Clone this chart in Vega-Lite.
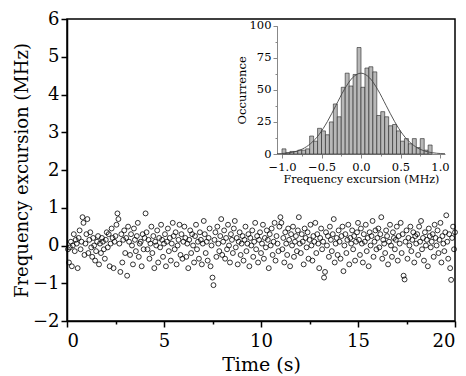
{
"$schema": "https://vega.github.io/schema/vega-lite/v6.json",
"autosize": "none",
"width": 388, "height": 302,
"padding": {"left": 67, "top": 19, "right": 11, "bottom": 55},
"background": "white",
"config": {"font": "DejaVu Serif", "view": {"stroke": "black", "strokeWidth": 1.5}, "axis": {"grid": false, "titleFontWeight": "normal"}},
"datasets": {
"pts": [
{"t":0.05,"f":-0.1},{"t":0.1,"f":-0.45},{"t":0.15,"f":-0.05},{"t":0.2,"f":0.1},{"t":0.25,"f":-0.55},{"t":0.3,"f":0.0},{"t":0.35,"f":0.3},{"t":0.4,"f":-0.15},{"t":0.45,"f":0.15},{"t":0.5,"f":0.05},{"t":0.55,"f":-0.6},{"t":0.6,"f":0.2},{"t":0.65,"f":0.4},{"t":0.7,"f":-0.1},{"t":0.75,"f":0.1},{"t":0.8,"f":0.75},{"t":0.85,"f":0.6},{"t":0.9,"f":-0.25},{"t":0.95,"f":0.05},{"t":1.0,"f":0.3},
{"t":1.05,"f":0.7},{"t":1.1,"f":-0.2},{"t":1.15,"f":0.15},{"t":1.2,"f":0.35},{"t":1.25,"f":-0.05},{"t":1.3,"f":-0.3},{"t":1.35,"f":0.2},{"t":1.4,"f":0.0},{"t":1.45,"f":-0.4},{"t":1.5,"f":-0.15},{"t":1.55,"f":0.1},{"t":1.6,"f":0.25},{"t":1.65,"f":-0.5},{"t":1.7,"f":0.05},{"t":1.75,"f":-0.2},{"t":1.8,"f":0.2},{"t":1.85,"f":0.1},{"t":1.9,"f":-0.1},{"t":1.95,"f":-0.35},{"t":2.0,"f":0.15},
{"t":2.05,"f":0.35},{"t":2.1,"f":-0.05},{"t":2.15,"f":0.3},{"t":2.2,"f":-0.55},{"t":2.25,"f":0.05},{"t":2.3,"f":0.45},{"t":2.35,"f":0.2},{"t":2.4,"f":-0.6},{"t":2.45,"f":0.1},{"t":2.5,"f":0.25},{"t":2.55,"f":0.55},{"t":2.6,"f":0.85},{"t":2.65,"f":0.7},{"t":2.7,"f":0.05},{"t":2.75,"f":-0.7},{"t":2.8,"f":0.3},{"t":2.85,"f":-0.45},{"t":2.9,"f":0.15},{"t":2.95,"f":0.4},{"t":3.0,"f":-0.2},
{"t":3.05,"f":0.2},{"t":3.1,"f":-0.8},{"t":3.15,"f":0.5},{"t":3.2,"f":0.1},{"t":3.25,"f":-0.25},{"t":3.3,"f":0.3},{"t":3.35,"f":0.0},{"t":3.4,"f":-0.5},{"t":3.45,"f":0.45},{"t":3.5,"f":0.15},{"t":3.55,"f":-0.15},{"t":3.6,"f":0.25},{"t":3.65,"f":0.6},{"t":3.7,"f":-0.3},{"t":3.75,"f":0.05},{"t":3.8,"f":0.1},{"t":3.85,"f":-0.55},{"t":3.9,"f":0.3},{"t":3.95,"f":-0.1},{"t":4.0,"f":0.2},
{"t":4.05,"f":0.85},{"t":4.1,"f":0.35},{"t":4.15,"f":-0.1},{"t":4.2,"f":0.15},{"t":4.25,"f":-0.35},{"t":4.3,"f":0.05},{"t":4.35,"f":0.5},{"t":4.4,"f":-0.2},{"t":4.45,"f":0.25},{"t":4.5,"f":-0.6},{"t":4.55,"f":0.1},{"t":4.6,"f":0.0},{"t":4.65,"f":0.4},{"t":4.7,"f":-0.45},{"t":4.75,"f":0.2},{"t":4.8,"f":-0.05},{"t":4.85,"f":0.55},{"t":4.9,"f":0.15},{"t":4.95,"f":-0.3},{"t":5.0,"f":0.05},
{"t":5.05,"f":0.3},{"t":5.1,"f":-0.55},{"t":5.15,"f":0.1},{"t":5.2,"f":0.45},{"t":5.25,"f":-0.15},{"t":5.3,"f":0.2},{"t":5.35,"f":-0.4},{"t":5.4,"f":0.05},{"t":5.45,"f":0.6},{"t":5.5,"f":0.25},{"t":5.55,"f":-0.1},{"t":5.6,"f":0.35},{"t":5.65,"f":-0.5},{"t":5.7,"f":0.0},{"t":5.75,"f":0.15},{"t":5.8,"f":0.55},{"t":5.85,"f":-0.25},{"t":5.9,"f":0.3},{"t":5.95,"f":-0.35},{"t":6.0,"f":0.1},
{"t":6.05,"f":0.5},{"t":6.1,"f":0.2},{"t":6.15,"f":-0.3},{"t":6.2,"f":0.05},{"t":6.25,"f":-0.6},{"t":6.3,"f":0.15},{"t":6.35,"f":0.4},{"t":6.4,"f":-0.2},{"t":6.45,"f":0.3},{"t":6.5,"f":0.0},{"t":6.55,"f":-0.45},{"t":6.6,"f":0.25},{"t":6.65,"f":0.55},{"t":6.7,"f":-0.1},{"t":6.75,"f":0.1},{"t":6.8,"f":-0.35},{"t":6.85,"f":0.35},{"t":6.9,"f":0.15},{"t":6.95,"f":-0.5},{"t":7.0,"f":0.05},
{"t":7.05,"f":0.65},{"t":7.1,"f":0.3},{"t":7.15,"f":-0.2},{"t":7.2,"f":0.1},{"t":7.25,"f":-0.4},{"t":7.3,"f":0.2},{"t":7.35,"f":0.45},{"t":7.4,"f":-0.55},{"t":7.45,"f":0.0},{"t":7.5,"f":-0.85},{"t":7.55,"f":-1.05},{"t":7.6,"f":0.15},{"t":7.65,"f":0.35},{"t":7.7,"f":-0.3},{"t":7.75,"f":0.5},{"t":7.8,"f":0.05},{"t":7.85,"f":-0.15},{"t":7.9,"f":0.25},{"t":7.95,"f":0.7},{"t":8.0,"f":-0.25},
{"t":8.05,"f":0.1},{"t":8.1,"f":0.4},{"t":8.15,"f":-0.35},{"t":8.2,"f":0.2},{"t":8.25,"f":-0.1},{"t":8.3,"f":0.55},{"t":8.35,"f":0.0},{"t":8.4,"f":-0.45},{"t":8.45,"f":0.3},{"t":8.5,"f":0.15},{"t":8.55,"f":-0.2},{"t":8.6,"f":0.45},{"t":8.65,"f":0.65},{"t":8.7,"f":-0.05},{"t":8.75,"f":0.2},{"t":8.8,"f":-0.5},{"t":8.85,"f":0.1},{"t":8.9,"f":0.35},{"t":8.95,"f":-0.25},{"t":9.0,"f":0.05},
{"t":9.05,"f":0.25},{"t":9.1,"f":-0.4},{"t":9.15,"f":0.15},{"t":9.2,"f":0.5},{"t":9.25,"f":-0.15},{"t":9.3,"f":0.05},{"t":9.35,"f":0.3},{"t":9.4,"f":-0.55},{"t":9.45,"f":0.2},{"t":9.5,"f":0.0},{"t":9.55,"f":0.4},{"t":9.6,"f":-0.3},{"t":9.65,"f":0.1},{"t":9.7,"f":0.6},{"t":9.75,"f":-0.1},{"t":9.8,"f":0.25},{"t":9.85,"f":-0.45},{"t":9.9,"f":0.15},{"t":9.95,"f":0.35},{"t":10.0,"f":-0.2},
{"t":10.05,"f":0.05},{"t":10.1,"f":0.55},{"t":10.15,"f":-0.35},{"t":10.2,"f":0.2},{"t":10.25,"f":-0.05},{"t":10.3,"f":0.4},{"t":10.35,"f":0.15},{"t":10.4,"f":-0.6},{"t":10.45,"f":0.3},{"t":10.5,"f":0.0},{"t":10.55,"f":0.45},{"t":10.6,"f":-0.25},{"t":10.65,"f":0.1},{"t":10.7,"f":0.6},{"t":10.75,"f":-0.4},{"t":10.8,"f":0.25},{"t":10.85,"f":0.05},{"t":10.9,"f":-0.15},{"t":10.95,"f":0.5},{"t":11.0,"f":0.75},
{"t":11.05,"f":0.6},{"t":11.1,"f":-0.1},{"t":11.15,"f":0.2},{"t":11.2,"f":-0.45},{"t":11.25,"f":0.35},{"t":11.3,"f":0.05},{"t":11.35,"f":-0.25},{"t":11.4,"f":0.45},{"t":11.45,"f":0.15},{"t":11.5,"f":-0.55},{"t":11.55,"f":0.3},{"t":11.6,"f":0.0},{"t":11.65,"f":0.5},{"t":11.7,"f":-0.3},{"t":11.75,"f":0.1},{"t":11.8,"f":0.25},{"t":11.85,"f":-0.15},{"t":11.9,"f":0.4},{"t":11.95,"f":0.75},{"t":12.0,"f":0.05},
{"t":12.05,"f":-0.2},{"t":12.1,"f":0.3},{"t":12.15,"f":0.1},{"t":12.2,"f":-0.5},{"t":12.25,"f":0.45},{"t":12.3,"f":0.2},{"t":12.35,"f":-0.05},{"t":12.4,"f":0.35},{"t":12.45,"f":-0.35},{"t":12.5,"f":0.15},{"t":12.55,"f":0.55},{"t":12.6,"f":0.0},{"t":12.65,"f":-0.4},{"t":12.7,"f":0.25},{"t":12.75,"f":0.1},{"t":12.8,"f":0.6},{"t":12.85,"f":-0.2},{"t":12.9,"f":0.3},{"t":12.95,"f":0.05},{"t":13.0,"f":-0.6},
{"t":13.05,"f":0.2},{"t":13.1,"f":0.45},{"t":13.15,"f":-0.1},{"t":13.2,"f":0.1},{"t":13.25,"f":-0.85},{"t":13.3,"f":-0.7},{"t":13.35,"f":0.35},{"t":13.4,"f":0.0},{"t":13.45,"f":0.25},{"t":13.5,"f":-0.3},{"t":13.55,"f":0.5},{"t":13.6,"f":0.15},{"t":13.65,"f":-0.15},{"t":13.7,"f":0.3},{"t":13.75,"f":0.7},{"t":13.8,"f":-0.45},{"t":13.85,"f":0.05},{"t":13.9,"f":0.2},{"t":13.95,"f":-0.25},{"t":14.0,"f":0.4},
{"t":14.05,"f":0.1},{"t":14.1,"f":-0.35},{"t":14.15,"f":0.25},{"t":14.2,"f":0.5},{"t":14.25,"f":-0.68},{"t":14.3,"f":0.0},{"t":14.35,"f":0.3},{"t":14.4,"f":-0.2},{"t":14.45,"f":0.15},{"t":14.5,"f":0.55},{"t":14.55,"f":-0.5},{"t":14.6,"f":0.2},{"t":14.65,"f":0.05},{"t":14.7,"f":0.4},{"t":14.75,"f":-0.1},{"t":14.8,"f":0.25},{"t":14.85,"f":-0.4},{"t":14.9,"f":0.1},{"t":14.95,"f":0.35},{"t":15.0,"f":0.6},
{"t":15.05,"f":0.15},{"t":15.1,"f":-0.25},{"t":15.15,"f":0.45},{"t":15.2,"f":0.05},{"t":15.25,"f":-0.45},{"t":15.3,"f":0.3},{"t":15.35,"f":0.1},{"t":15.4,"f":0.55},{"t":15.45,"f":-0.15},{"t":15.5,"f":0.2},{"t":15.55,"f":-0.55},{"t":15.6,"f":0.35},{"t":15.65,"f":0.0},{"t":15.7,"f":0.25},{"t":15.75,"f":0.65},{"t":15.8,"f":-0.3},{"t":15.85,"f":0.1},{"t":15.9,"f":0.4},{"t":15.95,"f":-0.1},{"t":16.0,"f":0.2},
{"t":16.05,"f":0.45},{"t":16.1,"f":-0.05},{"t":16.15,"f":0.3},{"t":16.2,"f":0.75},{"t":16.25,"f":-0.35},{"t":16.3,"f":0.15},{"t":16.35,"f":0.05},{"t":16.4,"f":-0.2},{"t":16.45,"f":0.4},{"t":16.5,"f":0.25},{"t":16.55,"f":-0.5},{"t":16.6,"f":0.1},{"t":16.65,"f":0.55},{"t":16.7,"f":0.0},{"t":16.75,"f":-0.3},{"t":16.8,"f":0.35},{"t":16.85,"f":0.2},{"t":16.9,"f":-0.1},{"t":16.95,"f":0.15},{"t":17.0,"f":0.5},
{"t":17.05,"f":-0.4},{"t":17.1,"f":0.25},{"t":17.15,"f":0.05},{"t":17.2,"f":0.6},{"t":17.25,"f":-0.2},{"t":17.3,"f":0.3},{"t":17.35,"f":-0.8},{"t":17.4,"f":-0.9},{"t":17.45,"f":0.1},{"t":17.5,"f":0.4},{"t":17.55,"f":-0.35},{"t":17.6,"f":0.2},{"t":17.65,"f":0.0},{"t":17.7,"f":0.5},{"t":17.75,"f":-0.15},{"t":17.8,"f":0.15},{"t":17.85,"f":0.35},{"t":17.9,"f":-0.45},{"t":17.95,"f":0.25},{"t":18.0,"f":0.05},
{"t":18.05,"f":0.3},{"t":18.1,"f":-0.25},{"t":18.15,"f":0.5},{"t":18.2,"f":0.1},{"t":18.25,"f":0.65},{"t":18.3,"f":-0.1},{"t":18.35,"f":0.2},{"t":18.4,"f":-0.4},{"t":18.45,"f":0.35},{"t":18.5,"f":0.0},{"t":18.55,"f":0.15},{"t":18.6,"f":-0.55},{"t":18.65,"f":0.45},{"t":18.7,"f":0.25},{"t":18.75,"f":-0.05},{"t":18.8,"f":0.1},{"t":18.85,"f":0.3},{"t":18.9,"f":-0.3},{"t":18.95,"f":0.55},{"t":19.0,"f":0.2},
{"t":19.05,"f":0.0},{"t":19.1,"f":0.4},{"t":19.15,"f":-0.2},{"t":19.2,"f":0.15},{"t":19.25,"f":0.6},{"t":19.3,"f":-0.45},{"t":19.35,"f":0.25},{"t":19.4,"f":0.05},{"t":19.45,"f":-0.15},{"t":19.5,"f":0.35},{"t":19.55,"f":0.8},{"t":19.6,"f":0.1},{"t":19.65,"f":-0.35},{"t":19.7,"f":0.3},{"t":19.75,"f":-0.6},{"t":19.8,"f":-0.91},{"t":19.85,"f":0.2},{"t":19.9,"f":0.5},{"t":19.95,"f":-0.1},{"t":20.0,"f":0.35}
],
"hist": [
{"b0":-1.0,"b1":-0.95,"n":4},{"b0":-0.95,"b1":-0.9,"n":1},{"b0":-0.9,"b1":-0.85,"n":2},{"b0":-0.85,"b1":-0.8,"n":2},{"b0":-0.8,"b1":-0.75,"n":3},{"b0":-0.75,"b1":-0.7,"n":3},{"b0":-0.7,"b1":-0.65,"n":4},{"b0":-0.65,"b1":-0.6,"n":14},{"b0":-0.6,"b1":-0.55,"n":10},{"b0":-0.55,"b1":-0.5,"n":20},{"b0":-0.5,"b1":-0.45,"n":18},{"b0":-0.45,"b1":-0.4,"n":15},{"b0":-0.4,"b1":-0.35,"n":25},{"b0":-0.35,"b1":-0.3,"n":39},{"b0":-0.3,"b1":-0.25,"n":29},{"b0":-0.25,"b1":-0.2,"n":52},{"b0":-0.2,"b1":-0.15,"n":63},{"b0":-0.15,"b1":-0.1,"n":53},{"b0":-0.1,"b1":-0.05,"n":62},{"b0":-0.05,"b1":0.0,"n":83},{"b0":0.0,"b1":0.05,"n":52},{"b0":0.05,"b1":0.1,"n":67},{"b0":0.1,"b1":0.15,"n":68},{"b0":0.15,"b1":0.2,"n":64},{"b0":0.2,"b1":0.25,"n":30},{"b0":0.25,"b1":0.3,"n":33},{"b0":0.3,"b1":0.35,"n":29},{"b0":0.35,"b1":0.4,"n":22},{"b0":0.4,"b1":0.45,"n":23},{"b0":0.45,"b1":0.5,"n":18},{"b0":0.5,"b1":0.55,"n":10},{"b0":0.55,"b1":0.6,"n":12},{"b0":0.6,"b1":0.65,"n":8},{"b0":0.65,"b1":0.7,"n":12},{"b0":0.7,"b1":0.75,"n":5},{"b0":0.75,"b1":0.8,"n":12},{"b0":0.8,"b1":0.85,"n":3},{"b0":0.85,"b1":0.9,"n":7}
],
"fit": [
{"x":-1.0,"y":0.2},{"x":-0.9,"y":0.6},{"x":-0.8,"y":1.6},{"x":-0.7,"y":3.8},{"x":-0.6,"y":8.1},{"x":-0.5,"y":15.1},{"x":-0.4,"y":25.3},{"x":-0.3,"y":37.7},{"x":-0.2,"y":50.1},{"x":-0.1,"y":59.5},{"x":0.0,"y":63},{"x":0.1,"y":59.5},{"x":0.2,"y":50.1},{"x":0.3,"y":37.7},{"x":0.4,"y":25.3},{"x":0.5,"y":15.1},{"x":0.6,"y":8.1},{"x":0.7,"y":3.8},{"x":0.8,"y":1.6},{"x":0.9,"y":0.6},{"x":1.0,"y":0.2}
]
},
"layer": [
{
"data": {"name": "pts"},
"mark": {"type": "point", "shape": "circle", "filled": false, "stroke": "black", "strokeWidth": 0.8, "size": 24, "opacity": 1},
"encoding": {
"x": {"field": "t", "type": "quantitative", "scale": {"domain": [0, 20], "nice": false, "zero": false},
"axis": {"orient": "bottom", "title": "Time (s)", "values": [0,2.5,5,7.5,10,12.5,15,17.5,20], "labelExpr": "datum.value % 5 === 0 ? datum.label : ''", "tickSize": {"condition": {"test": "datum.value % 5 === 0", "value": 6}, "value": 3}, "domainColor": "black", "domainWidth": 1.5, "tickColor": "black", "tickWidth": 1.5, "labelFontSize": 18, "labelColor": "black", "labelPadding": 5, "titleFontSize": 19, "titleColor": "black", "titlePadding": 5}},
"y": {"field": "f", "type": "quantitative", "scale": {"domain": [-2, 6], "nice": false, "zero": false},
"axis": {"orient": "left", "title": "Frequency excursion (MHz)", "values": [-2,-1,0,1,2,3,4,5,6], "tickSize": 6, "domainColor": "black", "domainWidth": 1.5, "tickColor": "black", "tickWidth": 1.5, "labelFontSize": 18, "labelColor": "black", "labelPadding": 2, "titleFontSize": 18, "titleColor": "black", "titlePadding": 1}}
}
},
{
"data": {"name": "hist"},
"mark": {"type": "bar", "fill": "#b8b8b8", "stroke": "#222222", "strokeWidth": 0.6, "orient": "vertical"},
"encoding": {
"x": {"field": "b0", "type": "quantitative", "scale": {"domain": [-1, 1], "range": [210, 378], "nice": false, "zero": false},
"axis": {"orient": "bottom", "offset": -167, "title": "Frequency excursion (MHz)", "values": [-1,-0.75,-0.5,-0.25,0,0.25,0.5,0.75,1], "format": ".1f", "labelExpr": "(datum.value * 4) % 2 === 0 ? datum.label : ''", "tickSize": {"condition": {"test": "(datum.value * 4) % 2 === 0", "value": 4}, "value": 2}, "domainColor": "#888888", "tickColor": "#888888", "labelFontSize": 11.5, "labelColor": "black", "labelPadding": 3, "titleFontSize": 11, "titleColor": "black", "titlePadding": 1}},
"x2": {"field": "b1"},
"y": {"field": "n", "type": "quantitative", "scale": {"domain": [0, 100], "range": [135, 6.7], "nice": false, "zero": false},
"axis": {"orient": "left", "offset": -210, "title": "Occurrence", "values": [0,12.5,25,37.5,50,62.5,75,87.5,100], "labelExpr": "datum.value % 25 === 0 ? datum.label : ''", "tickSize": {"condition": {"test": "datum.value % 25 === 0", "value": 4}, "value": 2}, "domainColor": "#888888", "tickColor": "#888888", "labelFontSize": 11.5, "labelColor": "black", "labelPadding": 2, "titleFontSize": 11.5, "titleColor": "black", "titlePadding": 2}},
"y2": {"datum": 0}
}
},
{
"data": {"name": "fit"},
"mark": {"type": "line", "color": "#444444", "strokeWidth": 0.9, "interpolate": "monotone"},
"encoding": {
"x": {"field": "x", "type": "quantitative", "scale": {"domain": [-1, 1], "range": [210, 378], "nice": false, "zero": false}, "axis": null},
"y": {"field": "y", "type": "quantitative", "scale": {"domain": [0, 100], "range": [135, 6.7], "nice": false, "zero": false}, "axis": null}
}
},
{
"mark": {"type": "rule", "color": "#999999", "strokeWidth": 1},
"encoding": {
"x": {"datum": -1, "type": "quantitative", "scale": {"domain": [-1, 1], "range": [210, 378], "nice": false, "zero": false}, "axis": null},
"x2": {"datum": 1},
"y": {"datum": 100, "type": "quantitative", "scale": {"domain": [0, 100], "range": [135, 6.7], "nice": false, "zero": false}, "axis": null}
}
},
{
"mark": {"type": "rule", "color": "#999999", "strokeWidth": 1},
"encoding": {
"x": {"datum": 1, "type": "quantitative", "scale": {"domain": [-1, 1], "range": [210, 378], "nice": false, "zero": false}, "axis": null},
"y": {"datum": 0, "type": "quantitative", "scale": {"domain": [0, 100], "range": [135, 6.7], "nice": false, "zero": false}, "axis": null},
"y2": {"datum": 100}
}
}
],
"resolve": {"scale": {"x": "independent", "y": "independent"}, "axis": {"x": "independent", "y": "independent"}}
}
